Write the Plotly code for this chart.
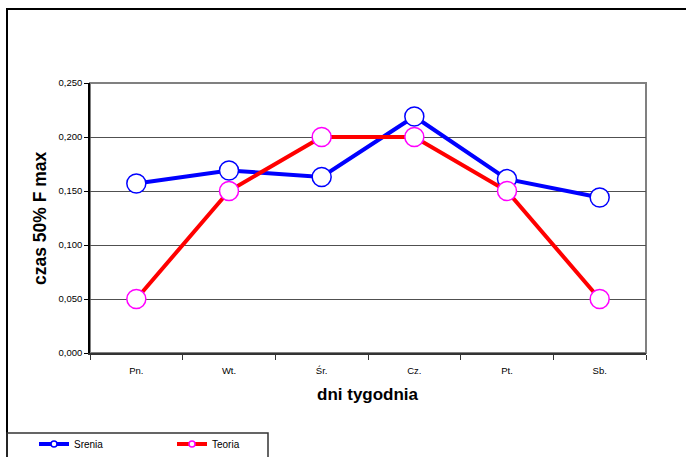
import plotly.graph_objects as go

# Dni tygodnia i wartości czasu 50% F max
days = ["Pn.", "Wt.", "Śr.", "Cz.", "Pt.", "Sb."]
srenia = [0.157, 0.169, 0.163, 0.219, 0.161, 0.144]
teoria = [0.050, 0.150, 0.200, 0.200, 0.150, 0.050]
y_ticks = [0.0, 0.05, 0.10, 0.15, 0.20, 0.25]

W, H = 686, 457
FONT = "Liberation Sans, Arial, sans-serif"

def px_x(p):
    return p / W

def px_y(p):
    return 1 - p / H

fig = go.Figure()

fig.add_trace(go.Scatter(
    x=days, y=srenia, name="Srenia", mode="lines+markers",
    line=dict(color="#0000FF", width=4),
    marker=dict(symbol="circle", size=19, color="white",
                line=dict(color="#0000FF", width=1.5)),
    showlegend=False,
))
fig.add_trace(go.Scatter(
    x=days, y=teoria, name="Teoria", mode="lines+markers",
    line=dict(color="#FF0000", width=4),
    marker=dict(symbol="circle", size=19, color="white",
                line=dict(color="#FF00FF", width=1.5)),
    showlegend=False,
))

# Legend entries with small sample markers
fig.add_trace(go.Scatter(
    x=[None], y=[None], name="Srenia", mode="lines+markers",
    line=dict(color="#0000FF", width=4),
    marker=dict(symbol="circle", size=6, color="white",
                line=dict(color="#0000FF", width=1.5)),
))
fig.add_trace(go.Scatter(
    x=[None], y=[None], name="Teoria", mode="lines+markers",
    line=dict(color="#FF0000", width=4),
    marker=dict(symbol="circle", size=6, color="white",
                line=dict(color="#FF00FF", width=1.5)),
))

x_dom = [px_x(90), px_x(646)]
y_dom = [px_y(353), px_y(83)]

fig.update_layout(
    width=W, height=H,
    margin=dict(l=0, r=0, t=0, b=0, autoexpand=False),
    paper_bgcolor="white", plot_bgcolor="white",
    separators=", ",
    font=dict(family=FONT, color="black", size=9),
    xaxis=dict(
        domain=x_dom, type="category", range=[-0.5, 5.5], automargin=False,
        showgrid=False, showline=True, linecolor="#333333", linewidth=1.5,
        ticks="outside", tickson="boundaries", ticklen=5, tickcolor="#333333",
        ticklabelstandoff=8,
        tickfont=dict(size=9.5, family=FONT), zeroline=False,
    ),
    yaxis=dict(
        domain=y_dom, range=[0, 0.25], tickvals=y_ticks, tickformat=".3f",
        automargin=False,
        showgrid=True, gridcolor="#505050", gridwidth=1,
        showline=True, linecolor="black", linewidth=1.5,
        ticks="outside", ticklen=4, tickcolor="black",
        tickfont=dict(size=9.5, family=FONT), zeroline=False,
    ),
    legend=dict(
        orientation="h", x=px_x(34), y=px_y(444),
        xanchor="left", yanchor="middle",
        font=dict(size=10, family=FONT),
        bgcolor="rgba(0,0,0,0)",
        entrywidth=93, entrywidthmode="pixels",
        itemclick=False,
    ),
    shapes=[
        # outer chart frame
        dict(type="rect", xref="paper", yref="paper",
             x0=px_x(7), x1=1.05, y0=-0.05, y1=px_y(9),
             line=dict(color="black", width=2), layer="below"),
        # legend frame
        dict(type="rect", xref="paper", yref="paper",
             x0=px_x(7), x1=px_x(268), y0=-0.05, y1=px_y(433),
             line=dict(color="#333333", width=1.5), layer="below"),
        # plot area border (top and right)
        dict(type="rect", xref="paper", yref="paper",
             x0=x_dom[0], x1=x_dom[1], y0=y_dom[0], y1=y_dom[1],
             line=dict(color="#808080", width=2), layer="below"),
    ],
    annotations=[
        dict(text="<b>dni tygodnia</b>", xref="paper", yref="paper",
             x=(x_dom[0] + x_dom[1]) / 2, y=px_y(394),
             xanchor="center", yanchor="middle", showarrow=False,
             font=dict(size=17, family=FONT)),
        dict(text="<b>czas 50% F max</b>", xref="paper", yref="paper",
             x=px_x(40), y=(y_dom[0] + y_dom[1]) / 2, textangle=-90,
             xanchor="center", yanchor="middle", showarrow=False,
             font=dict(size=17.5, family=FONT)),
    ],
)

fig.write_html("out.html")
